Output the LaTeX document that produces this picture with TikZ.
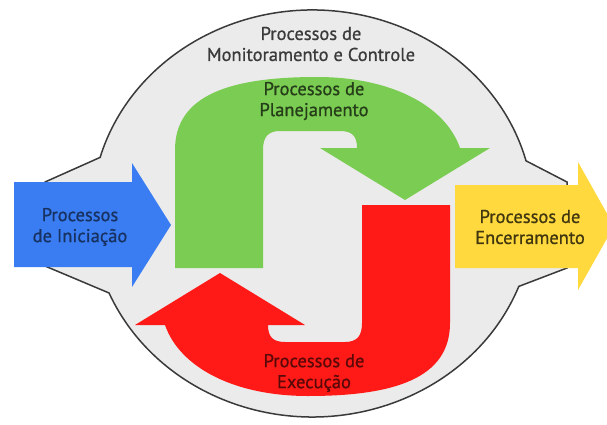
\documentclass[tikz,border=0pt]{standalone}
\usepackage{fontspec}
\setmainfont{PT Sans}[FakeBold=0.8]

\definecolor{fundo}{HTML}{EBEBEB}
\definecolor{contorno}{HTML}{3A3A3A}
\definecolor{azul}{HTML}{3A7DF2}
\definecolor{verde}{HTML}{7ACC52}
\definecolor{vermelho}{HTML}{FF1A17}
\definecolor{amarelo}{HTML}{FFD93D}

\tikzset{
  rotulo/.style={align=center, font=\fontsize{18.5}{21}\selectfont, inner sep=0pt},
}

% seta curva (planejamento); a de execucao e a mesma girada
\newcommand{\gancho}{(175,268) -- (175,150) .. controls (175,95) and (230,77) .. (317,77)
  .. controls (390,77) and (445,105) .. (460,148) -- (490,148) -- (405,200) -- (320,148)
  -- (357,148) .. controls (357,136) and (352,131) .. (340,131) -- (280,131)
  .. controls (268,131) and (263,137) .. (263,150) -- (263,268) -- cycle}

\begin{document}
\begin{tikzpicture}[x=1pt, y=-1pt]
\useasboundingbox (0,0) rectangle (607,425);
\clip (0,0) rectangle (607,425);

% Monitoramento
\draw[fill=fundo, draw=contorno, line width=1.5pt] (100.1,157.4)
  arc[start angle=196, end angle=345, x radius=221, y radius=203.5] -- (567,182) -- (567,268)
  -- (518.8,286.4) arc[start angle=21, end angle=157, x radius=221, y radius=203.5]
  -- (45,266) -- (45,182) -- cycle;
\node[rotulo, text=contorno] (monit) at (311,44) {Processos de\\Monitoramento e Controle};

% Iniciacao
\fill[azul] (14,182) -- (132,182) -- (132,163) -- (171,225) -- (132,287) -- (132,267) -- (14,267) -- cycle;
\node[rotulo, text=azul!40!black] (inic) at (80,227) {Processos\\de Iniciação};

% Encerramento
\fill[amarelo] (455,185) -- (578,185) -- (578,162) -- (614,226) -- (578,290) -- (578,268) -- (455,268) -- cycle;
\node[rotulo, text=amarelo!25!black] (encerr) at (530,227) {Processos de\\Encerramento};

% Planejamento
\fill[verde] \gancho;
\node[rotulo, text=verde!30!black] (planej) at (314,101) {Processos de\\Planejamento};

% Execucao
\fill[vermelho, rotate around={180:(312.5,236.5)}] \gancho;
\node[rotulo, text=vermelho!35!black] (exec) at (314,373) {Processos de\\Execução};

\end{tikzpicture}
\end{document}
